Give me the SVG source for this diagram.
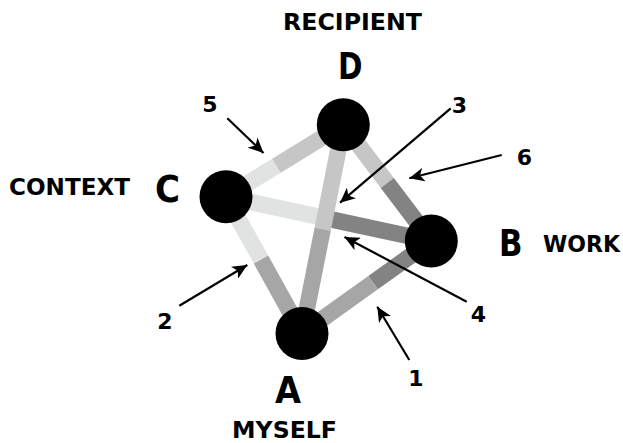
<svg xmlns="http://www.w3.org/2000/svg" width="623" height="443" viewBox="0 0 623 443">
<style>
.edge{stroke-width:16.5;stroke-linecap:butt;fill:none}
.ca{stroke:#a5a6a5}.cb{stroke:#838383}.cc{stroke:#e1e3e2}.cd{stroke:#c6c6c6}
.node{fill:#000}
.word{font-family:"DejaVu Sans",sans-serif;font-weight:bold;font-size:23px;fill:#000}
.letter{font-family:"DejaVu Sans",sans-serif;font-weight:bold;font-size:37px;fill:#000}
.num{font-family:"DejaVu Sans",sans-serif;font-weight:bold;font-size:22px;fill:#000;text-anchor:middle}
.arrow{stroke:#000;stroke-width:2.2;fill:none;marker-end:url(#head)}
</style>
<defs>
<marker id="head" markerUnits="userSpaceOnUse" markerWidth="16" markerHeight="14" refX="15" refY="7" orient="auto">
<path d="M0,0 L15,7 L0,14 L4,7 Z" fill="#000"/>
</marker>
</defs>
<rect width="623" height="443" fill="#fff"/>
<g id="connectors">
<line class="edge cc" x1="226" y1="196.7" x2="276.4" y2="165.7"/>
<line class="edge cd" x1="276.4" y1="165.7" x2="343.3" y2="124.7"/>
<line class="edge cd" x1="343.3" y1="124.7" x2="387.3" y2="182.9"/>
<line class="edge cb" x1="387.3" y1="182.9" x2="431.3" y2="241"/>
<line class="edge cb" x1="431.3" y1="241" x2="373.1" y2="282.6"/>
<line class="edge ca" x1="373.1" y1="282.6" x2="302" y2="333.5"/>
<line class="edge cc" x1="226" y1="196.7" x2="261" y2="259.6"/>
<line class="edge ca" x1="261" y1="259.6" x2="302" y2="333.5"/>
<line class="edge cc" x1="226" y1="196.7" x2="328.7" y2="218.9"/>
<line class="edge cb" x1="328.7" y1="218.9" x2="431.3" y2="241"/>
<line class="edge cd" x1="343.3" y1="124.7" x2="322.7" y2="229.1"/>
<line class="edge ca" x1="322.7" y1="229.1" x2="302" y2="333.5"/>
<line class="arrow" x1="409.3" y1="360" x2="377.3" y2="306.7"/>
<line class="arrow" x1="179.3" y1="305.7" x2="247.3" y2="265"/>
<line class="arrow" x1="450.7" y1="108.3" x2="340" y2="202.7"/>
<line class="arrow" x1="466.7" y1="301.7" x2="344.5" y2="237"/>
<line class="arrow" x1="227.3" y1="118.3" x2="263.5" y2="153"/>
<line class="arrow" x1="501.7" y1="155" x2="409.3" y2="178.3"/>
<text class="num" x="416" y="386">1</text>
<text class="num" x="165" y="329">2</text>
<text class="num" x="459.5" y="113">3</text>
<text class="num" x="478.5" y="322">4</text>
<text class="num" x="210" y="111.5">5</text>
<text class="num" x="524.5" y="165">6</text>
</g>
<g id="nodeA">
<circle class="node" cx="302" cy="333.5" r="26.5"/>
<text class="letter" x="275" y="403" textLength="26" lengthAdjust="spacingAndGlyphs">A</text>
<text class="word" x="232" y="438" textLength="105" lengthAdjust="spacingAndGlyphs">MYSELF</text>
</g>
<g id="nodeB">
<circle class="node" cx="431.3" cy="241" r="26.5"/>
<text class="letter" x="499" y="255.5" textLength="23.5" lengthAdjust="spacingAndGlyphs">B</text>
<text class="word" x="543" y="252.3" textLength="77" lengthAdjust="spacingAndGlyphs">WORK</text>
</g>
<g id="nodeC">
<circle class="node" cx="226" cy="196.7" r="26.5"/>
<text class="letter" x="155" y="201.5" textLength="25" lengthAdjust="spacingAndGlyphs">C</text>
<text class="word" x="9" y="195" textLength="121" lengthAdjust="spacingAndGlyphs">CONTEXT</text>
</g>
<g id="nodeD">
<circle class="node" cx="343.3" cy="124.7" r="26.5"/>
<text class="letter" x="338" y="79" textLength="24.5" lengthAdjust="spacingAndGlyphs">D</text>
<text class="word" x="283" y="30" textLength="139" lengthAdjust="spacingAndGlyphs">RECIPIENT</text>
</g>
</svg>
